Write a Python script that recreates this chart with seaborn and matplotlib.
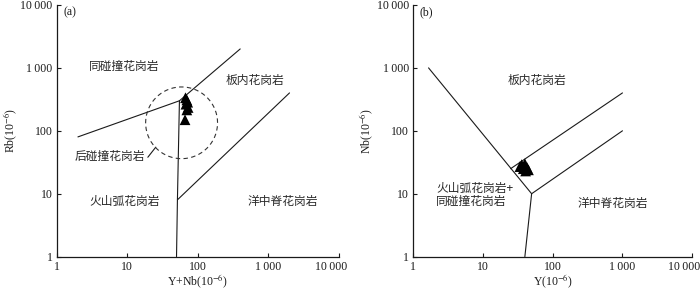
"""
Pearce et al. (1984) granite tectonic discrimination diagrams
(a) Rb vs Y+Nb, (b) Nb vs Y
"""

import numpy as np
import matplotlib.pyplot as plt
import matplotlib.ticker as mticker
import matplotlib.transforms as mtransforms
import seaborn as sns

# -- Data -------------------------------------------------------------------
# sample points, panel (a)
a_ynb = [66, 70, 73, 68, 72, 70, 67]
a_rb = [150, 215, 235, 265, 285, 310, 335]

# sample points, panel (b)
b_y = [36, 40, 38, 43, 45, 41, 34]
b_nb = [29, 30, 25, 26, 24, 23, 27]

# field boundaries, panel (a)
a_syn_vag_x = [2, 55]
a_syn_vag_y = [80, 300]
a_syn_wpg_x = [55, 400]
a_syn_wpg_y = [300, 2000]
a_vag_wpg_x = [55, 51.5, 50]
a_vag_wpg_y = [300, 8, 1]
a_org_wpg_x = [51.5, 2000]
a_org_wpg_y = [8, 400]

# post-collision field (dashed circle, in log units)
post_center = (59, 134)
post_radius = (0.51, 0.57)
post_leader_x = [19.6, 25.4]
post_leader_y = [38, 55]

# field boundaries, panel (b)
b_wpg_vag_x = [1.67, 50, 40]
b_wpg_vag_y = [1000, 10, 1]
b_org_low_x = [50, 1000]
b_org_low_y = [10, 100]
b_org_up_x = [25, 1000]
b_org_up_y = [25, 400]

TICKS = [1, 10, 100, 1000, 10000]
TICK_LABELS = ["1", "10", "100", "1\u2009000", "10\u2009000"]

# -- Style ------------------------------------------------------------------
sns.set_theme(style="ticks")
plt.rcParams["font.family"] = ["Liberation Serif", "DejaVu Serif"]
plt.rcParams["mathtext.fontset"] = "stix"

CJK = ["Noto Sans CJK SC", "DejaVu Sans"]
INK = "#1a1a1a"
LW = 0.8


def style_axes(fig, ax, xlabel, ylabel, tag):
    ax.set_xscale("log")
    ax.set_yscale("log")
    ax.set_xlim(1, 10000)
    ax.set_ylim(1, 10000)
    ax.set_xticks(TICKS)
    ax.set_yticks(TICKS)
    ax.xaxis.set_major_formatter(mticker.FixedFormatter(TICK_LABELS))
    ax.yaxis.set_major_formatter(mticker.FixedFormatter(TICK_LABELS))
    ax.xaxis.set_minor_locator(mticker.NullLocator())
    ax.yaxis.set_minor_locator(mticker.NullLocator())
    ax.tick_params(direction="in", length=3, width=0.8, colors=INK,
                   labelsize=8.5, pad=3)
    for side in ["top", "right"]:
        ax.spines[side].set_visible(False)
    for side in ["left", "bottom"]:
        ax.spines[side].set_color(INK)
        ax.spines[side].set_linewidth(0.9)
    ax.set_xlabel(xlabel, fontsize=8.5, color=INK)
    ax.set_ylabel(ylabel, fontsize=8.5, color=INK)
    ax.xaxis.set_label_coords(0.5, -0.062)
    ax.yaxis.set_label_coords(-0.135, 0.5)
    ax.text(0.025, 0.995, tag, transform=ax.transAxes, fontsize=8.5,
            color=INK, ha="left", va="top")

    # last x label sits a bit left of its tick, as in the source figure
    last = ax.xaxis.get_major_ticks()[-1].label1
    shift = mtransforms.ScaledTranslation(-8 / 100, 0, fig.dpi_scale_trans)
    last.set_transform(last.get_transform() + shift)


def cjk_text(ax, x, y, s, **kw):
    ax.text(x, y, s, family=CJK, fontsize=8.5, color="#2a2a2a",
            ha=kw.pop("ha", "center"), va="center", linespacing=1.0, **kw)


def plot_panel_a(fig, ax):
    for xs, ys in [(a_syn_vag_x, a_syn_vag_y), (a_syn_wpg_x, a_syn_wpg_y),
                   (a_vag_wpg_x, a_vag_wpg_y), (a_org_wpg_x, a_org_wpg_y),
                   (post_leader_x, post_leader_y)]:
        ax.plot(xs, ys, color=INK, lw=LW)

    t = np.linspace(0, 2 * np.pi, 200)
    cx = 10 ** (np.log10(post_center[0]) + post_radius[0] * np.cos(t))
    cy = 10 ** (np.log10(post_center[1]) + post_radius[1] * np.sin(t))
    ax.plot(cx, cy, color="#333333", lw=LW, ls=(0, (4, 3)))

    sns.scatterplot(x=a_ynb, y=a_rb, marker="^", s=60, color="black",
                    edgecolor="none", ax=ax, zorder=5)

    cjk_text(ax, 9.2, 1070, "同碰撞花岗岩")
    cjk_text(ax, 640, 620, "板内花岗岩")
    cjk_text(ax, 5.6, 39, "后碰撞花岗岩")
    cjk_text(ax, 9.1, 7.5, "火山弧花岗岩")
    cjk_text(ax, 1600, 7.5, "洋中脊花岗岩")

    style_axes(fig, ax, r"Y+Nb(10$^{-6}$)", r"Rb(10$^{-6}$)", "(a)")


def plot_panel_b(fig, ax):
    for xs, ys in [(b_wpg_vag_x, b_wpg_vag_y), (b_org_low_x, b_org_low_y),
                   (b_org_up_x, b_org_up_y)]:
        ax.plot(xs, ys, color=INK, lw=LW)

    sns.scatterplot(x=b_y, y=b_nb, marker="^", s=60, color="black",
                    edgecolor="none", ax=ax, zorder=5)

    cjk_text(ax, 60, 620, "板内花岗岩")
    cjk_text(ax, 2.13, 9.5, "火山弧花岗岩+\n同碰撞花岗岩", ha="left")
    cjk_text(ax, 715, 7, "洋中脊花岗岩")

    style_axes(fig, ax, r"Y(10$^{-6}$)", r"Nb(10$^{-6}$)", "(b)")


def main():
    fig = plt.figure(figsize=(7, 2.91), dpi=100)
    ax_a = fig.add_axes([0.081, 0.118, 0.403, 0.865])
    ax_b = fig.add_axes([0.590, 0.118, 0.399, 0.865])
    plot_panel_a(fig, ax_a)
    plot_panel_b(fig, ax_b)
    fig.savefig("out.png", dpi=100, facecolor="white")
    plt.close()


if __name__ == "__main__":
    main()
